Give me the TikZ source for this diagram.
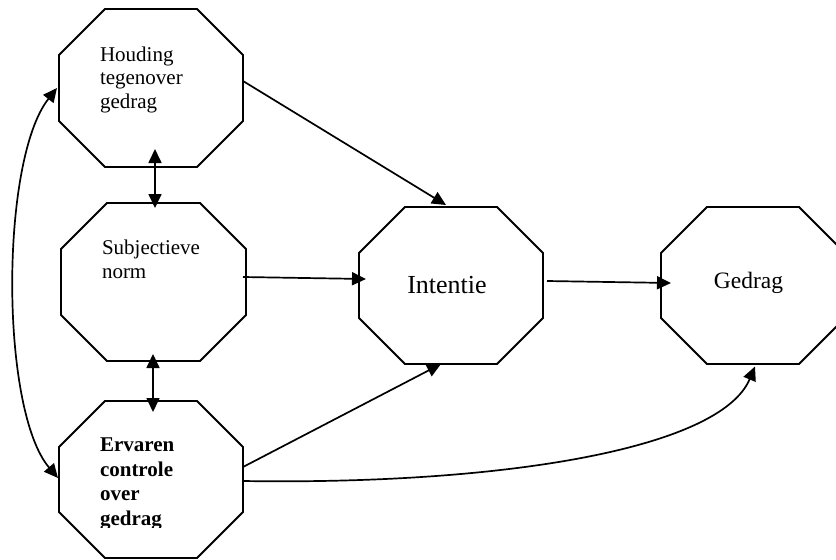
\documentclass[tikz,border=0pt]{standalone}
\usepackage{fontspec}
\setmainfont{Liberation Serif}
\usetikzlibrary{arrows.meta,calc}
\tikzset{
  box/.style={draw=none,rectangle,inner sep=0pt,outer sep=0pt},
  octline/.style={draw=black,line width=1.8pt,line join=miter},
  lbl/.style={inner sep=0pt,outer sep=0pt,align=left,anchor=base west,font=\fontsize{21}{23.5}\selectfont},
  con/.style={line width=1.7pt,-{Triangle[length=14pt,width=13pt]}},
  dcon/.style={line width=1.7pt,{Triangle[length=14pt,width=13pt]}-{Triangle[length=14pt,width=13pt]}}
}
\newcommand\octo[1]{%
  \draw[octline] ([xshift=46pt]#1.north west) -- ([xshift=-46pt]#1.north east)
   -- ([yshift=-46pt]#1.north east) -- ([yshift=46pt]#1.south east)
   -- ([xshift=-46pt]#1.south east) -- ([xshift=46pt]#1.south west)
   -- ([yshift=46pt]#1.south west) -- ([yshift=-46pt]#1.north west) -- cycle;}
\begin{document}
\begin{tikzpicture}[x=1pt,y=-1pt]
\useasboundingbox (0,0) rectangle (836,560);
\fill[white] (0,0) rectangle (836,560);
\clip (0,0) rectangle (836,560);
% octagon frames
\node[box,minimum width=184pt,minimum height=158pt] (h) at (151,88) {};
\node[box,minimum width=185pt,minimum height=158pt] (s) at (153.5,282) {};
\node[box,minimum width=184pt,minimum height=157pt] (e) at (151,479.5) {};
\node[box,minimum width=184pt,minimum height=157pt] (i) at (451,285.5) {};
\node[box,minimum width=184pt,minimum height=157pt] (g) at (753,285.5) {};
\octo{h}\octo{s}\octo{e}\octo{i}\octo{g}
% texts (base = baseline of the last line)
\node[lbl] (ht) at (100,108) {Houding\\tegenover\\gedrag};
\node[lbl] (st) at (102,278) {Subjectieve\\norm};
\begin{scope}
\clip (0,401) rectangle (836,527.5);
\node[lbl,font=\fontsize{21}{24.5}\selectfont\bfseries] (et) at (100,525) {Ervaren\\controle\\over\\gedrag};
\end{scope}
\node[inner sep=0pt,anchor=base,font=\fontsize{26}{30}\selectfont] (it) at (447,293) {Intentie};
\node[inner sep=0pt,anchor=base,font=\fontsize{23.5}{28}\selectfont] (gt) at (748.5,288) {Gedrag};
% connectors
\draw[dcon] ([xshift=4pt,yshift=18pt]h.south) -- ([xshift=1.5pt,yshift=-5pt]s.north);
\draw[dcon] ([xshift=-0.5pt,yshift=7pt]s.south) -- ([xshift=2pt,yshift=-11pt]e.north);
\draw[dcon] ([xshift=-2pt]h.west) .. controls +(-57,72) and +(-58,-68) .. ([xshift=-1pt,yshift=1.5pt]e.west);
\draw[con] ([yshift=7pt]h.east) -- ([xshift=-5pt,yshift=2pt]i.north);
\draw[con] ([xshift=-3pt,yshift=5pt]s.east) -- ([xshift=7pt,yshift=6.5pt]i.west);
\draw[con] ([xshift=4pt,yshift=4.5pt]i.east) -- ([xshift=10pt,yshift=2.5pt]g.west);
\draw[con] ([yshift=12.5pt]e.east) -- ([xshift=-10pt]i.south);
\draw[con] ([yshift=-1.5pt]e.east) .. controls +(257,4) and +(-35,83) .. ([xshift=2pt,yshift=-2.5pt]g.south);
\end{tikzpicture}
\end{document}
